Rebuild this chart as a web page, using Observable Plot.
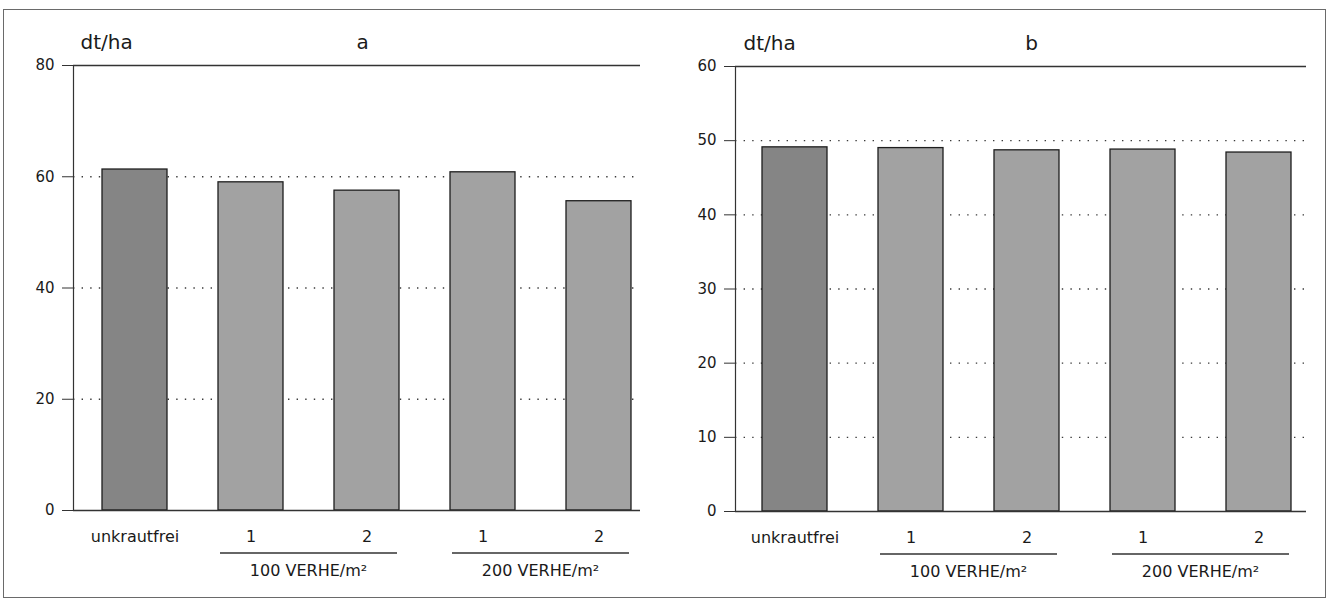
<!DOCTYPE html>
<html><head><meta charset="utf-8">
<script src="https://cdn.jsdelivr.net/npm/d3@7"></script>
<script src="https://cdn.jsdelivr.net/npm/@observablehq/plot@0.6"></script>
<style>
html,body{margin:0;padding:0;background:#fff;}
#wrap{position:relative;width:1333px;height:600px;overflow:hidden;background:#fff;font-family:"DejaVu Sans",sans-serif;}
#border{position:absolute;left:3px;top:9px;width:1321px;height:587px;border:1.5px solid #6a6a6a;}
.panel{position:absolute;top:0;}
</style></head><body>
<div id="wrap"><div id="border"></div><div id="pa" class="panel" style="left:0"></div><div id="pb" class="panel" style="left:666px"></div></div>
<script>
// categories (unique keys) and their printed tick labels
const keys = ["unkrautfrei", "100-1", "100-2", "200-1", "200-2"];
const tickLabels = ["unkrautfrei", "1", "2", "1", "2"];
// series values (dt/ha)
const valuesA = [61.3, 59.0, 57.5, 60.8, 55.6];
const valuesB = [49.1, 49.0, 48.7, 48.8, 48.4];
// y ticks
const yTicksA = [0, 20, 40, 60, 80];
const gridA = [20, 40, 60];
const yTicksB = [0, 10, 20, 30, 40, 50, 60];
const gridB = [10, 20, 30, 40, 50];
// group labels
const groupLabels = ["100 VERHE/m²", "200 VERHE/m²"];
const groupStart = ["100-1", "200-1"];
const groupEnd = ["100-2", "200-2"];
const unitLabel = "dt/ha";

function panel(o) {
  const data = keys.map((k, i) => ({key: k, value: o.values[i]}));
  const chart = Plot.plot({
    width: o.width, height: 600,
    marginLeft: o.marginLeft, marginRight: o.marginRight,
    marginTop: o.marginTop, marginBottom: o.marginBottom,
    style: {fontFamily: "DejaVu Sans, sans-serif", color: "#1a1a1a", background: "transparent"},
    x: {type: "band", domain: keys, range: o.xRange, paddingInner: 0.443, paddingOuter: 0.2215, align: 0.5},
    y: {domain: [0, o.yMax]},
    marks: [
      Plot.ruleY(o.grid, {stroke: "#3a3a3a", strokeWidth: 1.4, strokeDasharray: "1.4 7.2"}),
      Plot.barY(data, {x: "key", y: "value", fill: d => d.key === "unkrautfrei" ? "#858585" : "#a2a2a2", stroke: "#1e1e1e", strokeWidth: 1.3}),
      Plot.ruleY([o.yMax], {stroke: "#333", strokeWidth: 1.3}),
      Plot.ruleY([0], {stroke: "#333", strokeWidth: 1.3}),
      Plot.frame({anchor: "left", stroke: "#333", strokeWidth: 1.2}),
      Plot.axisY({ticks: o.yTicks, tickSize: 11, tickPadding: 8, fontSize: 15, label: null, stroke: "#333"}),
      Plot.axisX({tickSize: 0, tickPadding: 20, fontSize: 16, label: null, tickFormat: d => tickLabels[keys.indexOf(d)]}),
      Plot.text([unitLabel], {text: d => d, frameAnchor: "top-left", textAnchor: "start", lineAnchor: "bottom", dx: o.unitDx, dy: -17, fontSize: 20}),
      Plot.text([o.letter], {text: d => d, frameAnchor: "top-left", textAnchor: "middle", lineAnchor: "bottom", dx: o.letterDx, dy: -17, fontSize: 20})
    ]
  });
  // group brackets under the x axis, positioned with the plot's own x scale
  const sx = chart.scale("x");
  const y0 = chart.scale("y").apply(0);
  const g = d3.select(chart).append("g");
  groupLabels.forEach((lab, i) => {
    const x1 = sx.apply(groupStart[i]) + 2;
    const x2 = sx.apply(groupEnd[i]) + sx.bandwidth - 2;
    g.append("line").attr("x1", x1).attr("x2", x2).attr("y1", y0 + 43).attr("y2", y0 + 43)
      .attr("stroke", "#333").attr("stroke-width", 1.3);
    g.append("text").attr("x", (x1 + x2) / 2).attr("y", y0 + 66).attr("text-anchor", "middle")
      .attr("font-size", 16).attr("font-family", "DejaVu Sans, sans-serif").attr("fill", "#1a1a1a").text(lab);
  });
  return chart;
}

document.getElementById("pa").appendChild(panel({
  values: valuesA, yMax: 80, yTicks: yTicksA, grid: gridA, letter: "a",
  width: 666, marginLeft: 73, marginRight: 26, marginTop: 65, marginBottom: 90,
  xRange: [74.2, 657.5], unitDx: 7, letterDx: 289
}));
document.getElementById("pb").appendChild(panel({
  values: valuesB, yMax: 60, yTicks: yTicksB, grid: gridB, letter: "b",
  width: 667, marginLeft: 69, marginRight: 27, marginTop: 66, marginBottom: 89,
  xRange: [68.6, 652.4], unitDx: 8, letterDx: 296
}));
</script>
</body></html>
